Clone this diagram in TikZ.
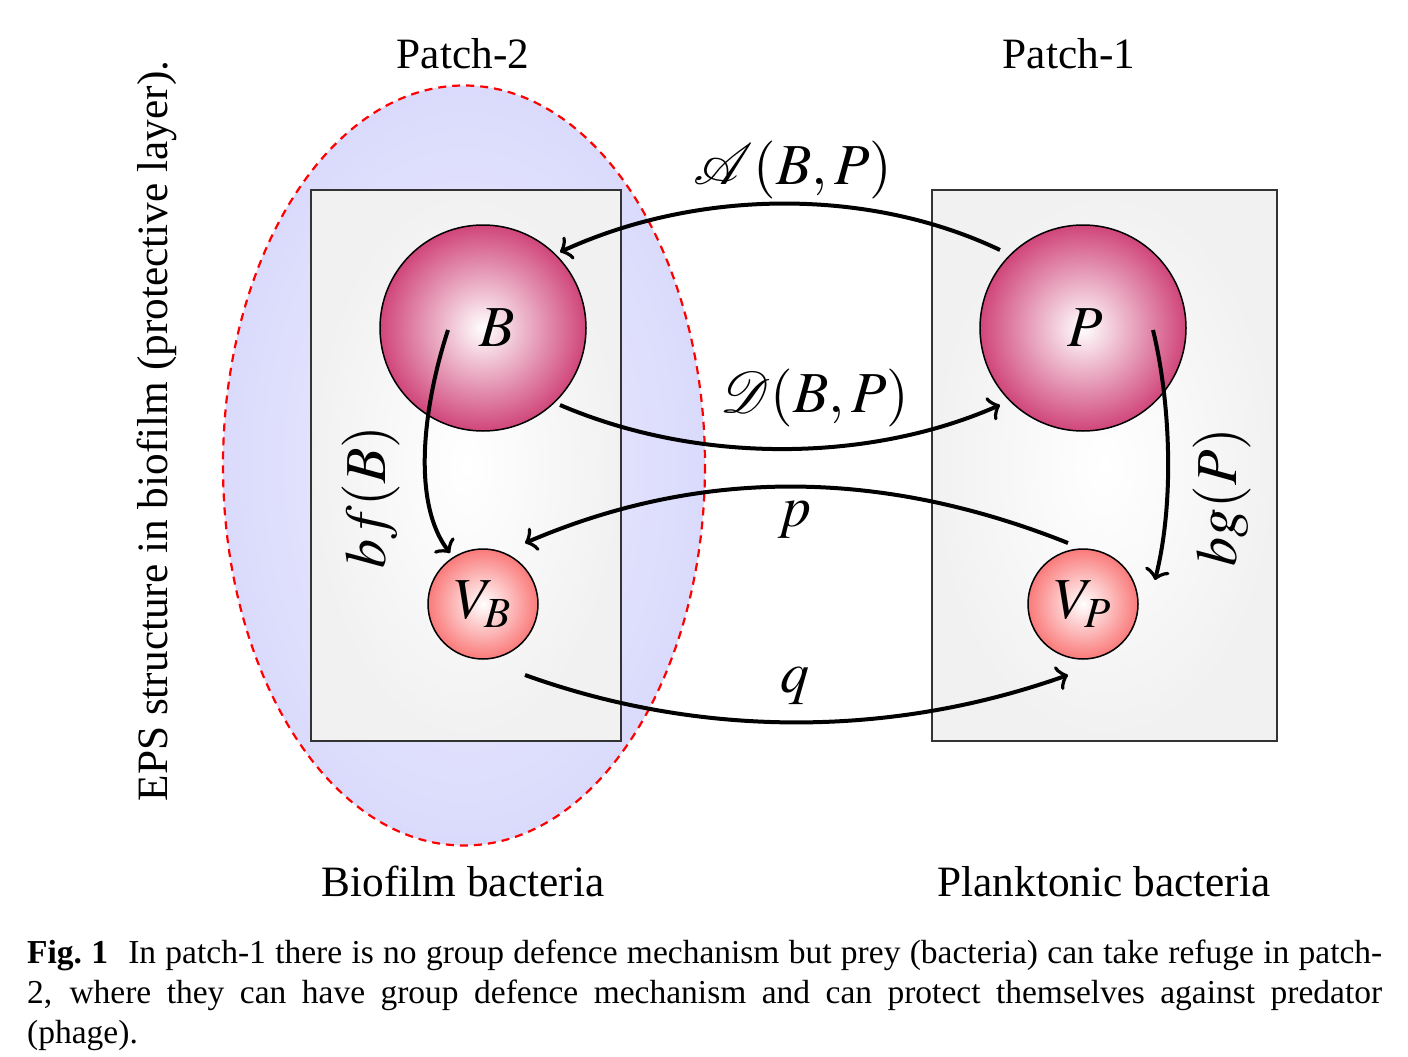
\documentclass[tikz,border=0pt]{standalone}
\usepackage{amsmath}
\usepackage{mathptmx}
\usepackage[no-math]{fontspec}
\setmainfont{Liberation Serif}
\usetikzlibrary{calc,arrows.meta}
\DeclareFontFamily{U}{rsfsx}{\skewchar\font127 }
\DeclareFontShape{U}{rsfsx}{m}{n}{<-> rsfs10}{}
\DeclareMathAlphabet{\mathscrx}{U}{rsfsx}{m}{n}
\definecolor{ballc}{RGB}{208,70,122}
\definecolor{vcol}{RGB}{250,122,122}
\definecolor{boxc}{RGB}{241,241,241}
\definecolor{ellin}{RGB}{240,240,255}
\definecolor{ellout}{RGB}{218,218,252}
\tikzset{
  conn/.style={line width=4pt, -{Classical TikZ Rightarrow[length=11pt,width=25pt]}},
  bigball/.style={circle, draw=black, line width=1.5pt, minimum size=206pt, inner sep=0pt, outer sep=0pt, shade, inner color=white, outer color=ballc},
  smallball/.style={circle, draw=black, line width=1.5pt, minimum size=110pt, inner sep=0pt, outer sep=0pt, shade, inner color=white, outer color=vcol},
  patchbox/.style={draw=black!80, line width=1.5pt, shade, inner color=white, outer color=boxc, inner sep=0pt, outer sep=0pt},
  lab/.style={font=\fontsize{43.3}{52}\selectfont, inner sep=0pt},
  mlab/.style={font=\fontsize{58}{70}\selectfont, inner sep=0pt},
}
\begin{document}
\begin{tikzpicture}[x=1pt,y=-1pt]
\useasboundingbox[fill=white] (0,0) rectangle (1408,1057);
% EPS ellipse
\path[draw=red, line width=2.2pt, dash pattern=on 8pt off 6pt, shade, inner color=ellin, outer color=ellout]
  (464,465.5) ellipse [x radius=241, y radius=380];
% patches
\node[patchbox, minimum width=310pt, minimum height=551pt] (patch2) at (466,465.5) {};
\node[patchbox, minimum width=345pt, minimum height=551pt] (patch1) at (1104.5,465.5) {};
% populations
\node[bigball] (B) at (483,328) {};
\node[bigball] (P) at (1083,328) {};
\node[smallball] (VB) at (483,604) {};
\node[smallball] (VP) at (1083,604) {};
\node[mlab] (lB) at (497,328) {$B$};
\node[mlab] (lP) at (1085,328) {$P$};
\node[mlab] (lVB) at (483,604) {$V_B$};
\node[mlab] (lVP) at (1083,604) {$V_P$};
% connectors
\draw[conn] ($(P.center)+(-83,-78)$) .. controls ($(P.center)+(-213,-140)$) and ($(B.center)+(217,-140)$) .. ($(B.center)+(77,-76)$);
\draw[conn] ($(B.center)+(77,77)$) .. controls ($(B.center)+(217,137)$) and ($(P.center)+(-213,134)$) .. ($(P.center)+(-83,77)$);
\draw[conn] ($(VP.center)+(-15,-61)$) .. controls ($(VP.center)+(-203,-136)$) and ($(VB.center)+(217,-136)$) .. ($(VB.center)+(42,-61)$);
\draw[conn] ($(VB.center)+(42,71)$) .. controls ($(VB.center)+(217,134)$) and ($(VP.center)+(-193,134)$) .. ($(VP.center)+(-15,71)$);
\draw[conn] ($(B.center)+(-35,2)$) .. controls ($(B.center)+(-58,72)$) and ($(VB.center)+(-73,-104)$) .. ($(VB.center)+(-33,-51)$);
\draw[conn] ($(P.center)+(70,2)$) .. controls ($(P.center)+(87,72)$) and ($(VP.center)+(92,-104)$) .. ($(VP.center)+(72,-24)$);
% connector labels
\node[mlab] (lA) at (793,170) {$\mathscrx{A}(B,P)$};
\node[mlab] (lD) at (815,398) {$\mathscrx{D}(B,P)$};
\node[mlab, anchor=base] (lp) at (795,526) {$p$};
\node[mlab, anchor=base] (lq) at (795,692) {$q$};
\node[mlab, rotate=90] (lbf) at (371,497) {$bf(B)$};
\node[mlab, rotate=90] (lbg) at (1222,497) {$bg(P)$};
% titles
\node[lab, anchor=base] (t2) at (463,68) {Patch-2};
\node[lab, anchor=base] (t1) at (1069,68) {Patch-1};
\node[lab, anchor=base] (bb) at (463,896) {Biofilm bacteria};
\node[lab, anchor=base] (pb) at (1104,896) {Planktonic bacteria};
\node[lab, rotate=90, anchor=base] (eps) at (167,431) {EPS structure in biofilm (protective layer).};
% caption
\node[anchor=base west, text width=1355pt, align=justify, inner sep=0pt, font=\fontsize{33.5}{40}\selectfont] (cap) at (27,963)
 {\textbf{Fig.~1}\hspace{0.6em}In patch-1 there is no group defence mechanism but prey (bacteria) can take refuge in patch-\linebreak 2, where they can have group defence mechanism and can protect themselves against predator\linebreak (phage).};
\end{tikzpicture}
\end{document}
